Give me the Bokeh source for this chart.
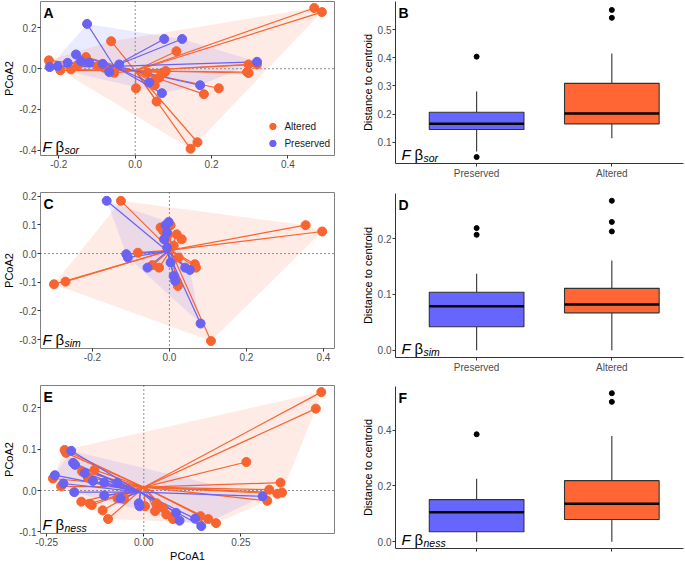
import numpy as np
from bokeh.plotting import figure
from bokeh.layouts import row, column
from bokeh.models import Range1d, FixedTicker, Span, Label, Legend, LegendItem
from bokeh.embed import file_html
from bokeh.resources import INLINE

# ---------------- data ----------------
# Panel A (beta sor)
A_alt_x = [0.469, 0.489, -0.063, 0.108, 0.297, 0.319, 0.293, 0.297, 0.219, 0.180, 0.002, 0.051, 0.056, 0.163, 0.145,
           -0.226, -0.196, -0.168, -0.129, -0.150, -0.098, -0.055, -0.081, 0.032, 0.063, 0.076, 0.050, 0.080]
A_alt_y = [0.298, 0.278, 0.135, 0.086, 0.021, 0.021, -0.016, -0.021, -0.096, -0.125, -0.096, -0.081, -0.161, -0.361, -0.393,
           0.041, -0.008, -0.003, 0.057, 0.020, 0.013, -0.020, 0.005, -0.020, -0.044, -0.020, -0.060, -0.011]
A_pre_x = [-0.126, 0.076, 0.123, 0.319, 0.170, 0.070, 0.037, -0.155, -0.224, -0.177, -0.142, -0.085, -0.068, -0.042, -0.203, -0.120]
A_pre_y = [0.220, 0.146, 0.146, 0.034, -0.081, -0.120, -0.068, 0.070, 0.008, 0.029, 0.037, 0.024, -0.016, 0.021, 0.013, 0.030]
A_alt_c = (0.0, -0.010)
A_pre_c = (-0.055, 0.012)
A_xticks = [-0.2, 0.0, 0.2, 0.4]
A_xlabels = ["-0.2", "0.0", "0.2", "0.4"]
A_yticks = [-0.4, -0.2, 0.0, 0.2]
A_ylabels = ["-0.4", "-0.2", "0.0", "0.2"]

# Panel C (beta sim)
C_alt_x = [-0.126, 0.354, 0.397, -0.300, -0.270, -0.082, 0.108, 0.022, 0.018, -0.044, -0.027, 0.066, 0.069, 0.003,
           -0.023, 0.019, 0.032, 0.011, -0.016, 0.024, -0.006]
C_alt_y = [0.184, 0.099, 0.077, -0.107, -0.098, 0.003, -0.305, -0.113, -0.095, -0.040, -0.049, -0.037, -0.049, 0.099,
           0.091, 0.067, 0.050, 0.027, 0.079, -0.014, 0.062]
C_pre_x = [-0.163, 0.081, -0.112, -0.108, -0.057, -0.010, -0.006, -0.014, -0.006, 0.011, 0.015, 0.041, 0.053, 0.003, -0.002]
C_pre_y = [0.184, -0.244, -0.002, -0.014, -0.049, 0.099, 0.073, 0.050, 0.021, -0.078, -0.095, -0.049, -0.057, -0.031, 0.110]
C_alt_c = (0.003, 0.012)
C_pre_c = (-0.005, 0.008)
C_xticks = [-0.2, 0.0, 0.2, 0.4]
C_xlabels = ["-0.2", "0.0", "0.2", "0.4"]
C_yticks = [-0.3, -0.2, -0.1, 0.0, 0.1, 0.2]
C_ylabels = ["-0.3", "-0.2", "-0.1", "0.0", "0.1", "0.2"]

# Panel E (beta ness)
E_alt_x = [0.457, 0.443, 0.264, 0.352, 0.323, 0.344, 0.356, 0.318, -0.204, -0.200, -0.234, -0.213, -0.161, -0.139,
           -0.134, -0.106, -0.092, -0.068, -0.051, -0.127, -0.159, -0.144, 0.003, 0.033, 0.029, 0.058, 0.075, 0.146,
           0.166, 0.186, 0.050]
E_alt_y = [0.238, 0.198, 0.069, 0.019, 0.002, -0.008, -0.005, -0.025, 0.098, 0.091, 0.029, 0.010, -0.027, -0.032,
           -0.035, -0.048, -0.069, -0.019, -0.021, 0.050, 0.046, 0.031, -0.038, -0.031, -0.050, -0.058, -0.069, -0.062,
           -0.069, -0.079, -0.042]
E_pre_x = [-0.187, -0.182, -0.177, -0.229, -0.207, -0.179, -0.152, -0.131, -0.102, -0.068, -0.060, -0.013, -0.011,
           0.083, 0.092, 0.132, 0.148, 0.306, -0.102]
E_pre_y = [0.096, 0.067, 0.062, 0.037, 0.017, -0.004, 0.042, 0.023, 0.019, 0.019, -0.019, -0.031, -0.038, -0.054,
           -0.073, -0.068, -0.086, -0.014, -0.012]
E_alt_c = (0.0, 0.008)
E_pre_c = (-0.009, -0.004)
E_xticks = [-0.25, 0.0, 0.25]
E_xlabels = ["-0.25", "0.00", "0.25"]
E_yticks = [-0.1, 0.0, 0.1, 0.2]
E_ylabels = ["-0.1", "0.0", "0.1", "0.2"]

# Boxplots: order [Preserved, Altered]
groups = ["Preserved", "Altered"]
B_q1 = [0.145, 0.165]; B_med = [0.165, 0.202]; B_q3 = [0.206, 0.309]
B_lo = [0.067, 0.114]; B_hi = [0.280, 0.415]
B_out_g = [1, 1, 2, 2]; B_out_y = [0.404, 0.047, 0.570, 0.542]
B_yticks = [0.1, 0.2, 0.3, 0.4, 0.5]; B_ylabels = ["0.1", "0.2", "0.3", "0.4", "0.5"]

D_q1 = [0.042, 0.067]; D_med = [0.079, 0.082]; D_q3 = [0.104, 0.111]
D_lo = [0.0, 0.0]; D_hi = [0.137, 0.161]
D_out_g = [1, 1, 2, 2, 2]; D_out_y = [0.219, 0.207, 0.268, 0.230, 0.213]
D_yticks = [0.0, 0.1, 0.2]; D_ylabels = ["0.0", "0.1", "0.2"]

F_q1 = [0.036, 0.080]; F_med = [0.106, 0.136]; F_q3 = [0.151, 0.219]
F_lo = [0.0, 0.0]; F_hi = [0.226, 0.379]
F_out_g = [1, 2, 2]; F_out_y = [0.385, 0.532, 0.501]
F_yticks = [0.0, 0.2, 0.4]; F_ylabels = ["0.0", "0.2", "0.4"]

# ---------------- style ----------------
FONT = "Liberation Sans"
ORANGE = "#F8642F"
BLUE = "#6A62F2"
BOX_OR = "#FF6633"
BOX_BL = "#6666FF"
TICK_COL = "#4D4D4D"


def hull(xs, ys):
    pts = sorted(set(zip(xs, ys)))
    def cross(o, a, b):
        return (a[0] - o[0]) * (b[1] - o[1]) - (a[1] - o[1]) * (b[0] - o[0])
    lower, upper = [], []
    for p in pts:
        while len(lower) >= 2 and cross(lower[-2], lower[-1], p) <= 0:
            lower.pop()
        lower.append(p)
    for p in reversed(pts):
        while len(upper) >= 2 and cross(upper[-2], upper[-1], p) <= 0:
            upper.pop()
        upper.append(p)
    h = lower[:-1] + upper[:-1]
    return [q[0] for q in h], [q[1] for q in h]


def style_axes(p, xt, xl, yt, yl, boxed):
    for ax, t, l in ((p.xaxis[0], xt, xl), (p.yaxis[0], yt, yl)):
        ax.ticker = FixedTicker(ticks=t)
        ax.major_label_overrides = {v: s for v, s in zip(t, l)}
        ax.major_tick_out = 3
        ax.major_tick_in = 0
        ax.minor_tick_line_color = None
        ax.major_tick_line_color = "#333333"
        ax.major_label_text_font = FONT
        ax.major_label_text_font_size = "10px"
        ax.major_label_text_color = TICK_COL
        ax.major_label_standoff = 1
        ax.axis_label_text_font = FONT
        ax.axis_label_text_font_size = "11px"
        ax.axis_label_text_font_style = "normal"
        ax.axis_label_text_color = "black"
        ax.axis_label_standoff = 1
        ax.axis_line_color = None if boxed else "#333333"
    p.xgrid.visible = False
    p.ygrid.visible = False


def add_tag(p, xr, yr, letter, sub, fx=2):
    p.add_layout(Label(x=xr[0], y=yr[1], x_offset=3, y_offset=-3, text=letter, text_font=FONT,
                       text_font_size="14px", text_font_style="bold", text_baseline="top", text_color="black"))
    p.add_layout(Label(x=xr[0], y=yr[0], x_offset=fx, y_offset=1, text="F", text_font=FONT,
                       text_font_size="15px", text_font_style="italic", text_baseline="bottom", text_color="black"))
    p.add_layout(Label(x=xr[0], y=yr[0], x_offset=fx + 13, y_offset=1, text="β", text_font=FONT,
                       text_font_size="15px", text_font_style="normal", text_baseline="bottom", text_color="black"))
    p.add_layout(Label(x=xr[0], y=yr[0], x_offset=fx + 22, y_offset=0, text=sub, text_font=FONT,
                       text_font_size="10.5px", text_font_style="italic", text_baseline="bottom", text_color="black"))


def pcoa(W, H, borders, xr, yr, xt, xl, yt, yl, ax_, ay_, px_, py_, ac, pc, letter, sub, xlabel=None, legend=False):
    l, r, t, b = borders
    p = figure(width=W, height=H, output_backend="svg", toolbar_location=None,
               x_range=Range1d(*xr), y_range=Range1d(*yr),
               min_border_left=l, min_border_right=r, min_border_top=t, min_border_bottom=b)
    p.outline_line_color = "#7F7F7F"
    p.outline_line_width = 1
    style_axes(p, xt, xl, yt, yl, boxed=True)
    p.yaxis.axis_label = "PCoA2"
    if xlabel:
        p.xaxis.axis_label = xlabel
    p.add_layout(Span(location=0, dimension="width", line_dash="1 3", line_color="#222222", line_width=1, level="underlay"))
    p.add_layout(Span(location=0, dimension="height", line_dash="1 3", line_color="#222222", line_width=1, level="underlay"))
    hx, hy = hull(ax_, ay_)
    p.patch(hx, hy, fill_color=BOX_OR, fill_alpha=0.13, line_color=None)
    hx, hy = hull(px_, py_)
    p.patch(hx, hy, fill_color=BOX_BL, fill_alpha=0.13, line_color=None)
    p.segment(x0=ax_, y0=ay_, x1=[ac[0]] * len(ax_), y1=[ac[1]] * len(ax_), line_color=ORANGE, line_width=1.2)
    p.segment(x0=px_, y0=py_, x1=[pc[0]] * len(px_), y1=[pc[1]] * len(px_), line_color=BLUE, line_width=1.2)
    ra = p.scatter(ax_, ay_, size=9, marker="circle", fill_color=ORANGE, line_color=ORANGE)
    rp = p.scatter(px_, py_, size=9, marker="circle", fill_color=BLUE, line_color=BLUE)
    add_tag(p, xr, yr, letter, sub, fx=2)
    if legend:
        lg = Legend(items=[LegendItem(label="Altered", renderers=[ra]),
                           LegendItem(label="Preserved", renderers=[rp])],
                    location="bottom_right", border_line_color=None, background_fill_alpha=0,
                    label_text_font=FONT, label_text_font_size="10px", label_text_color="#1A1A1A",
                    glyph_width=16, glyph_height=16, spacing=1, padding=1, margin=4, label_standoff=4,
                    label_height=16)
        p.add_layout(lg)
    return p


def boxp(W, H, borders, yr, yt, yl, q1, med, q3, lo, hi, og, oy, letter, sub, show_labels=True):
    l, r, t, b = borders
    xr = (0.4, 2.53)
    p = figure(width=W, height=H, output_backend="svg", toolbar_location=None,
               x_range=Range1d(*xr), y_range=Range1d(*yr),
               min_border_left=l, min_border_right=r, min_border_top=t, min_border_bottom=b)
    p.outline_line_color = None
    style_axes(p, [1, 2], groups, yt, yl, boxed=False)
    if not show_labels:
        p.xaxis.major_label_overrides = {1: " ", 2: " "}
        p.xaxis.major_label_text_font_size = "0px"
        p.xaxis.major_label_standoff = 0
    p.yaxis.axis_label = "Distance to centroid"
    xs = [1, 2]
    p.segment(x0=xs, y0=q3, x1=xs, y1=hi, line_color="#333333", line_width=1.1)
    p.segment(x0=xs, y0=q1, x1=xs, y1=lo, line_color="#333333", line_width=1.1)
    p.vbar(x=xs, width=0.7, bottom=q1, top=q3, fill_color=[BOX_BL, BOX_OR], line_color="#333333", line_width=1.1)
    p.segment(x0=[x - 0.35 for x in xs], y0=med, x1=[x + 0.35 for x in xs], y1=med, line_color="black", line_width=2.5)
    p.scatter(og, oy, size=5, marker="circle", fill_color="black", line_color="black")
    add_tag(p, xr, yr, letter, sub, fx=6)
    return p


LW, RW = 340, 344
pA = pcoa(LW, 183, (39, 6, 1, 28), (-0.248, 0.522), (-0.426, 0.33), A_xticks, A_xlabels, A_yticks, A_ylabels,
          A_alt_x, A_alt_y, A_pre_x, A_pre_y, A_alt_c, A_pre_c, "A", "sor", legend=True)
pB = boxp(RW, 183, (55, 1, 1, 20), (0.024, 0.6), B_yticks, B_ylabels, B_q1, B_med, B_q3, B_lo, B_hi,
          B_out_g, B_out_y, "B", "sor")
pC = pcoa(LW, 192, (37, 6, 9, 27), (-0.335, 0.429), (-0.331, 0.213), C_xticks, C_xlabels, C_yticks, C_ylabels,
          C_alt_x, C_alt_y, C_pre_x, C_pre_y, C_alt_c, C_pre_c, "C", "sim")
pD = boxp(RW, 192, (55, 1, 10, 18), (-0.013, 0.281), D_yticks, D_ylabels, D_q1, D_med, D_q3, D_lo, D_hi,
          D_out_g, D_out_y, "D", "sim")
pE = pcoa(LW, 189, (37, 5, 10, 29), (-0.266, 0.491), (-0.104, 0.254), E_xticks, E_xlabels, E_yticks, E_ylabels,
          E_alt_x, E_alt_y, E_pre_x, E_pre_y, E_alt_c, E_pre_c, "E", "ness", xlabel="PCoA1")
pF = boxp(RW, 189, (55, 1, 11, 16), (-0.024, 0.556), F_yticks, F_ylabels, F_q1, F_med, F_q3, F_lo, F_hi,
          F_out_g, F_out_y, "F", "ness", show_labels=False)

layout = row(column(pA, pC, pE, spacing=0), column(pB, pD, pF, spacing=0), spacing=0)
open("out.html", "w").write(file_html(layout, INLINE))
